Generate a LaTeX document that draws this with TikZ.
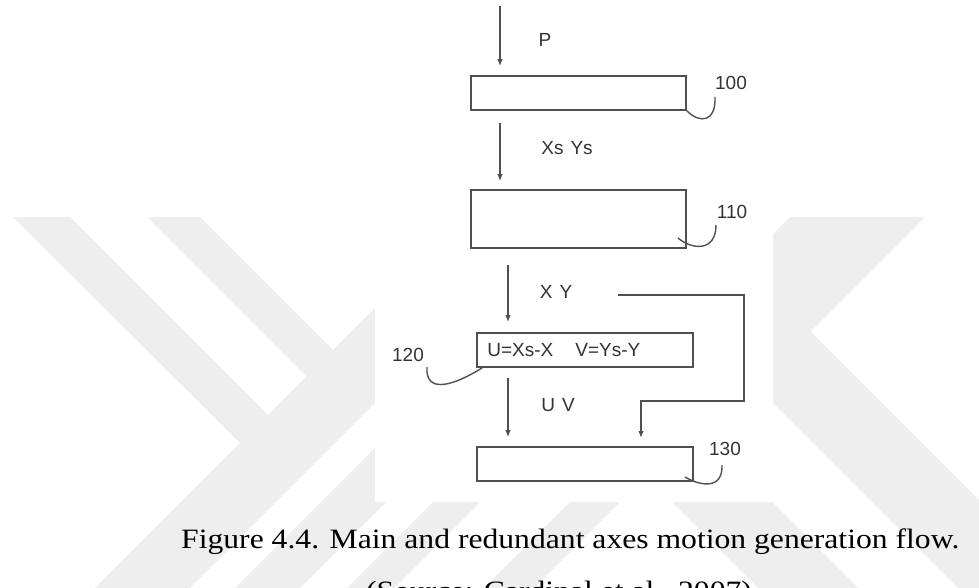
\documentclass[tikz,border=0pt]{standalone}
\usepackage{fontspec}
\setmainfont{Liberation Serif}
\setsansfont{Liberation Sans}
\usetikzlibrary{arrows.meta}

\definecolor{wmgray}{RGB}{238,238,238}
\definecolor{inkgray}{RGB}{80,80,80}

\begin{document}
\begin{tikzpicture}[x=1pt,y=-1pt,
  blk/.style={draw=inkgray, line width=1.6pt, inner sep=0pt},
  arr/.style={draw=inkgray, line width=1.4pt, -{Latex[length=7pt,width=5.5pt]}},
  lead/.style={draw=inkgray, line width=1.4pt},
  lbl/.style={text=black!80, font=\sffamily\fontsize{19}{21}\selectfont, inner sep=0pt},
  figcap/.style={anchor=base west, inner sep=0pt, font=\fontsize{28}{34}\selectfont}]

\useasboundingbox (0,0) rectangle (979,588);
\clip (0,0) rectangle (979,588);

% faint mark behind the page
\fill[wmgray] (13,217) -- (70,217) -- (268,415) -- (240,443) -- cycle;
\fill[wmgray] (147,217) -- (200,217) -- (333,350) -- (307,377) -- cycle;
\fill[wmgray] (95,588) -- (190,588) -- (490,288) -- (395,288) -- cycle;
\fill[wmgray] (235,588) -- (300,588) -- (500,388) -- (435,388) -- cycle;
\fill[wmgray] (433,502) -- (480,502) -- (394,588) -- (347,588) -- cycle;
\fill[wmgray] (570,502) -- (620,502) -- (534,588) -- (484,588) -- cycle;
\fill[wmgray] (790,217) -- (925,217) -- (700,442) -- (700,307) -- cycle;
\fill[wmgray] (700,330) -- (700,221) -- (1079,600) -- (970,600) -- cycle;
\fill[wmgray] (600,430) -- (700,430) -- (870,600) -- (770,600) -- cycle;

% the figure itself sits on white
\fill[white] (375,0) rectangle (773,502);

% blocks
\node[blk, minimum width=215pt, minimum height=34pt] (b100) at (578.5,93) {};
\node[blk, minimum width=215pt, minimum height=58pt] (b110) at (578.5,219) {};
\node[blk, minimum width=216pt, minimum height=34pt] (b120) at (585,350) {};
\node[blk, minimum width=216pt, minimum height=34pt] (b130) at (585,464) {};

\node[lbl, anchor=west] (eq) at ([xshift=11pt]b120.west) {U=Xs-X\hspace{22pt}V=Ys-Y};

% signal names
\node[lbl] (tP) at (545,40) {P};
\node[lbl] (tXsYs) at (567,148) {Xs\hspace{7pt}Ys};
\node[lbl] (tXY) at (556,292) {X\hspace{7pt}Y};
\node[lbl] (tUV) at (558,405) {U\hspace{7pt}V};

% reference numerals
\node[lbl] (n100) at (731,83) {100};
\node[lbl] (n110) at (732,212) {110};
\node[lbl] (n120) at (408,355) {120};
\node[lbl] (n130) at (725,449) {130};

% flow
\coordinate (in) at (500,6);
\draw[arr, shorten >=9pt] (in) -- (in |- b100.north);
\draw[arr, shorten <=12pt, shorten >=8pt] (b100.south -| in) -- (in |- b110.north);
\coordinate (c1) at (508,248);
\draw[arr, shorten <=17pt, shorten >=10pt] (c1) -- (c1 |- b120.north);
\draw[arr, shorten <=10pt, shorten >=9pt] (c1 |- b120.south) -- (c1 |- b130.north);

% X Y fed around to the last block
\coordinate (fb) at (618,295);
\draw[arr, shorten >=9pt] (fb) -- (744,295) -- (744,401) -- (641,401) -- (641,447);

% leader lines
\coordinate (t100) at (715,97);
\coordinate (t110) at (716,225);
\coordinate (t120) at (427,367);
\coordinate (t130) at (722,465);
\draw[lead] (b100.south east) .. controls (700,124) and (716,122) .. (t100);
\draw[lead] (678,238) .. controls (692,250) and (716,252) .. (t110);
\draw[lead] ([xshift=6pt]b120.south west) .. controls (455,385) and (425,395) .. (t120);
\draw[lead] (685,477) .. controls (700,486) and (723,490) .. (t130);

% caption
\node[figcap] (cap1) at (181,548) {\scalebox{1.13}[1]{Figure 4.4. Main and redundant axes motion generation flow.}};
\node[figcap] (cap2) at (366,600) {\scalebox{1.13}[1]{(Source: Cardinal et al., 2007)}};

\end{tikzpicture}
\end{document}
